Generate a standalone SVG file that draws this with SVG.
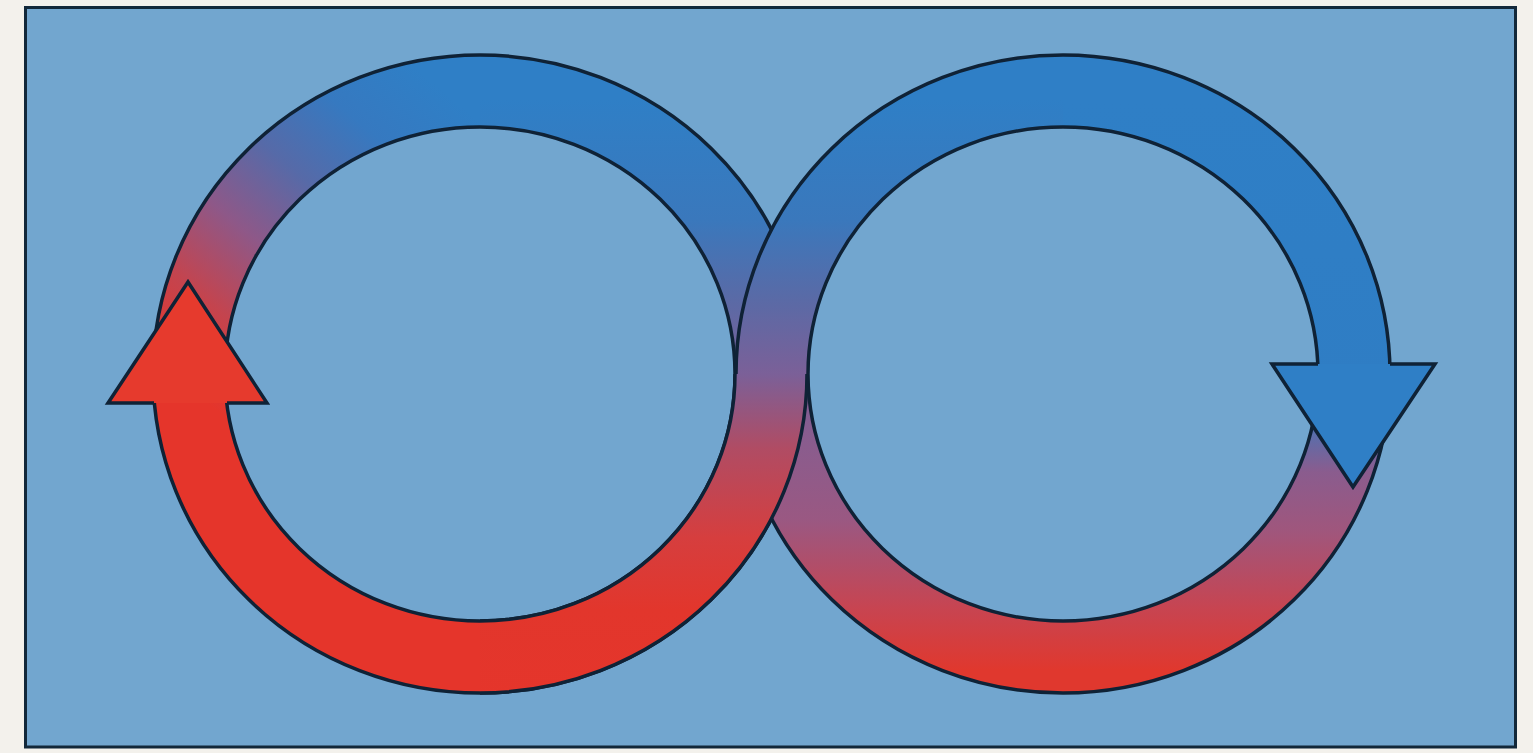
<svg xmlns="http://www.w3.org/2000/svg" width="1533" height="753" viewBox="0 0 1533 753">
<style>
.ring{fill-rule:evenodd;stroke:#0f2236;stroke-width:3.5;stroke-linejoin:round}
.headfill{stroke:none}
.headline{fill:none;stroke:#0f2236;stroke-width:3.5;stroke-linejoin:miter}
</style>
<defs>
<path id="ringL" d="M153,374 a327,319 0 1,0 654,0 a327,319 0 1,0 -654,0 Z M225,374 a255,247 0 1,0 510,0 a255,247 0 1,0 -510,0 Z"/>
<path id="ringR" d="M736,374 a327,319 0 1,0 654,0 a327,319 0 1,0 -654,0 Z M808,374 a255,247 0 1,0 510,0 a255,247 0 1,0 -510,0 Z"/>
<clipPath id="cL1"><rect x="0" y="0" width="480" height="753"/></clipPath>
<clipPath id="cL2"><rect x="480" y="0" width="1053" height="753"/></clipPath>
<clipPath id="cR1"><rect x="0" y="0" width="1063" height="753"/></clipPath>
<clipPath id="cR2"><rect x="1063" y="0" width="470" height="753"/></clipPath>
<clipPath id="cOver"><rect x="480" y="374" width="1053" height="379"/></clipPath>
<linearGradient id="gL1" gradientUnits="userSpaceOnUse" x1="430" y1="80" x2="180" y2="380">
<stop offset="0" stop-color="#2f7fc6"/>
<stop offset="0.2" stop-color="#3679c0"/>
<stop offset="0.4" stop-color="#566aa8"/>
<stop offset="0.6" stop-color="#8e5888"/>
<stop offset="0.8" stop-color="#c4444e"/>
<stop offset="1" stop-color="#e5352b"/>
</linearGradient>
<linearGradient id="gL2" gradientUnits="userSpaceOnUse" x1="0" y1="100" x2="0" y2="700">
<stop offset="0" stop-color="#2f7fc6"/>
<stop offset="0.2" stop-color="#3a78bc"/>
<stop offset="0.333" stop-color="#5a6aa6"/>
<stop offset="0.457" stop-color="#7b6098"/>
<stop offset="0.58" stop-color="#b04c64"/>
<stop offset="0.73" stop-color="#d63e3e"/>
<stop offset="0.85" stop-color="#e2362c"/>
<stop offset="1" stop-color="#e5352b"/>
</linearGradient>
<linearGradient id="gR1" gradientUnits="userSpaceOnUse" x1="0" y1="100" x2="0" y2="700">
<stop offset="0" stop-color="#2f7fc6"/>
<stop offset="0.2" stop-color="#3a78bc"/>
<stop offset="0.333" stop-color="#5a6aa6"/>
<stop offset="0.457" stop-color="#7b6098"/>
<stop offset="0.7" stop-color="#9a5882"/>
<stop offset="0.85" stop-color="#c84450"/>
<stop offset="0.95" stop-color="#e0382e"/>
</linearGradient>
<linearGradient id="gR2" gradientUnits="userSpaceOnUse" x1="0" y1="100" x2="0" y2="700">
<stop offset="0" stop-color="#2f7fc6"/>
<stop offset="0.5" stop-color="#2f7dc4"/>
<stop offset="0.62" stop-color="#8a5c8e"/>
<stop offset="0.72" stop-color="#a0567c"/>
<stop offset="0.85" stop-color="#c84450"/>
<stop offset="0.95" stop-color="#e0382e"/>
</linearGradient>
</defs>
<rect x="0" y="0" width="1533" height="753" fill="#f3f1ec"/>
<rect id="panel" x="25.5" y="7.5" width="1490" height="739.5" fill="#72a6cf" stroke="#12283a" stroke-width="3"/>
<g id="left-loop">
<use href="#ringL" class="ring" fill="url(#gL1)" clip-path="url(#cL1)"/>
<use href="#ringL" class="ring" fill="url(#gL2)" clip-path="url(#cL2)"/>
</g>
<g id="right-loop">
<use href="#ringR" class="ring" fill="url(#gR1)" clip-path="url(#cR1)"/>
<use href="#ringR" class="ring" fill="url(#gR2)" clip-path="url(#cR2)"/>
</g>
<g id="connectors">
<use id="crossing-over" href="#ringL" class="ring" fill="url(#gL2)" clip-path="url(#cOver)"/>
<g id="arrow-left">
<polygon class="headfill" fill="#e63a2d" points="154,403 108,403 188,282 267,403 227,403"/>
<polyline class="headline" points="154,403 108,403 188,282 267,403 227,403"/>
</g>
<g id="arrow-right">
<polygon class="headfill" fill="#2f7fc6" points="1318,364 1272,364 1353,487 1435,364 1390,364"/>
<polyline class="headline" points="1318,364 1272,364 1353,487 1435,364 1390,364"/>
</g>
</g>
</svg>
